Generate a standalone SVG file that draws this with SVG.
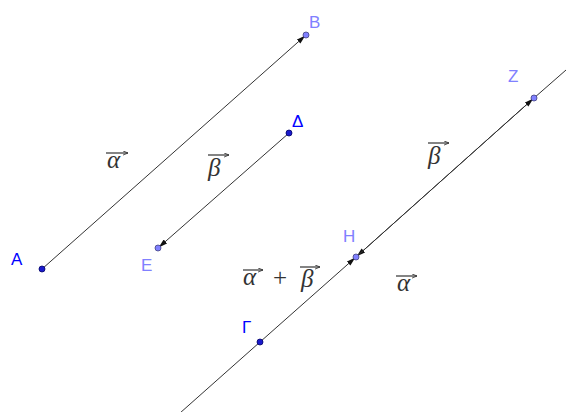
<svg xmlns="http://www.w3.org/2000/svg" width="572" height="412" viewBox="0 0 572 412">
<style>
.ln{stroke:#333;stroke-width:1;fill:none}
.vec{stroke:#333;stroke-width:1;fill:none;marker-end:url(#ah)}
.pd{fill:#1a1acc;stroke:#000066;stroke-width:0.8}
.pl{fill:#8080ff;stroke:#404080;stroke-width:0.8}
.ld{font-family:"Liberation Sans",Arial,sans-serif;font-size:17px;fill:#0000ff}
.ll{font-family:"Liberation Sans",Arial,sans-serif;font-size:17px;fill:#8080ff}
.m{font-family:"Liberation Serif","DejaVu Serif",serif;font-style:italic;font-size:25px;fill:#333}
.p{font-family:"Liberation Serif","DejaVu Serif",serif;font-size:25px;fill:#333}
.ov{stroke:#333;stroke-width:1.2;fill:none}
</style>
<defs>
<marker id="ah" viewBox="0 0 10 6" refX="11" refY="3" markerWidth="9" markerHeight="5.5" markerUnits="userSpaceOnUse" orient="auto">
<path d="M0,0 L10,3 L0,6 z" fill="#111"/>
</marker>
<marker id="oh" viewBox="0 0 6 6" refX="6" refY="3" markerWidth="5" markerHeight="5" markerUnits="userSpaceOnUse" orient="auto">
<path d="M0,0.5 L6,3 L0,5.5" fill="none" stroke="#333" stroke-width="1"/>
</marker>
</defs>
<g id="connectors">
<path class="vec" d="M42,269 L306,35"/>
<path class="vec" d="M289,133 L158,248"/>
<path class="ln" d="M180,413 L260,342"/>
<path class="vec" d="M260,342 L356,257"/>
<path class="vec" d="M534,98 L356,257"/>
<path class="vec" d="M356,257 L534,98"/>
<path class="ln" d="M534,98 L566,70"/>
</g>
<g id="labels">
<g id="lbl-alpha1"><path class="ov" d="M106,153 L128,153" marker-end="url(#oh)"/><text class="m" x="107" y="168">α</text></g>
<g id="lbl-beta1"><path class="ov" d="M208,155 L229,155" marker-end="url(#oh)"/><text class="m" x="208" y="176">β</text></g>
<g id="lbl-sum"><path class="ov" d="M243,270 L263,270" marker-end="url(#oh)"/><text class="m" x="243" y="285">α</text><text class="p" x="273" y="286">+</text><path class="ov" d="M300,267 L320,267" marker-end="url(#oh)"/><text class="m" x="301" y="287">β</text></g>
<g id="lbl-alpha2"><path class="ov" d="M396,276 L417,276" marker-end="url(#oh)"/><text class="m" x="397" y="291">α</text></g>
<g id="lbl-beta2"><path class="ov" d="M428,143 L449,143" marker-end="url(#oh)"/><text class="m" x="428" y="164">β</text></g>
</g>
<g id="A"><circle class="pd" cx="42" cy="269" r="3"/><text class="ld" x="11" y="265">A</text></g>
<g id="B"><circle class="pl" cx="306" cy="35" r="3"/><text class="ll" x="309" y="28">B</text></g>
<g id="Delta"><circle class="pd" cx="289" cy="133" r="3"/><text class="ld" x="292" y="127">Δ</text></g>
<g id="E"><circle class="pl" cx="158" cy="248" r="3"/><text class="ll" x="141" y="271">E</text></g>
<g id="Z"><circle class="pl" cx="534" cy="98" r="3"/><text class="ll" x="508" y="82">Z</text></g>
<g id="H"><circle class="pl" cx="356" cy="257" r="3"/><text class="ll" x="343" y="242">H</text></g>
<g id="Gamma"><circle class="pd" cx="260" cy="342" r="3"/><text class="ld" x="242" y="333">Γ</text></g>
</svg>
